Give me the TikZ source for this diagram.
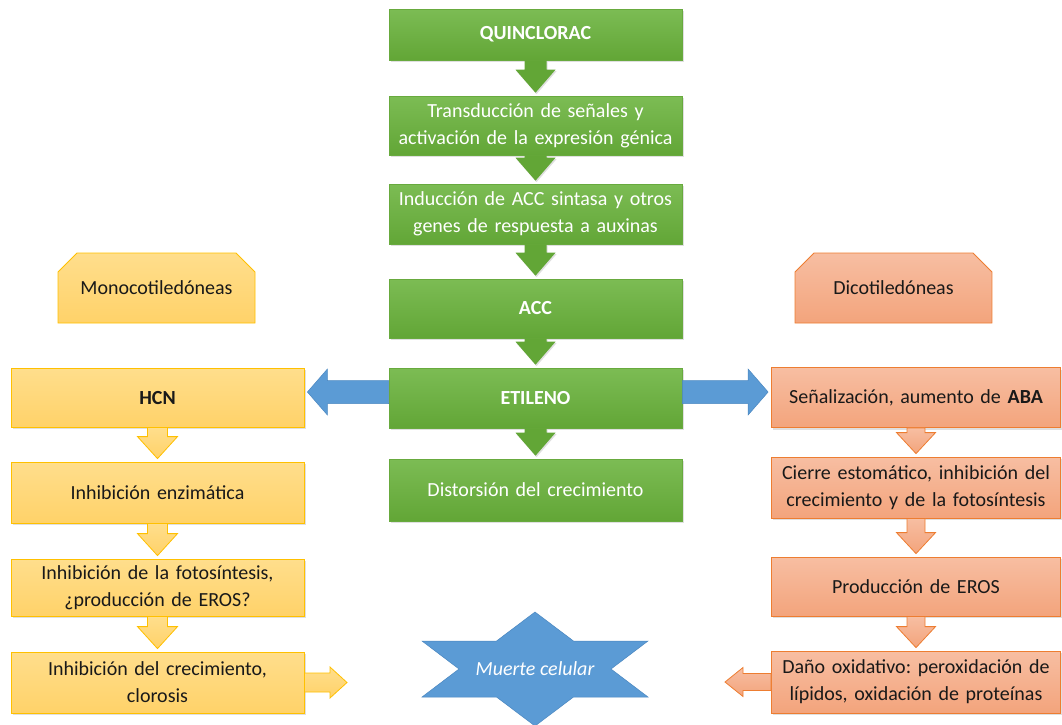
\documentclass[tikz,border=0pt]{standalone}
\usepackage{fontspec}
\setmainfont{Carlito}
\frenchspacing
\usetikzlibrary{shapes.misc,shadows,calc}

\definecolor{gtop}{RGB}{124,188,84}
\definecolor{gbot}{RGB}{98,166,54}
\definecolor{gbord}{RGB}{104,170,62}
\definecolor{ytop}{RGB}{255,222,140}
\definecolor{ybot}{RGB}{255,210,105}
\definecolor{ybord}{RGB}{255,192,0}
\definecolor{otop}{RGB}{247,190,162}
\definecolor{obot}{RGB}{243,164,124}
\definecolor{obord}{RGB}{237,125,49}
\definecolor{bfill}{RGB}{91,155,213}
\definecolor{bbord}{RGB}{75,135,192}
\definecolor{txt}{RGB}{25,25,25}

% block arrow pointing down from the south of #2 to the north of #3
\newcommand\blockdown[6]{\path[#1] let \p1=(#2.south), \p2=(#3.north) in
 (\x1-#4,\y1) -- (\x1+#4,\y1) -- (\x1+#4,\y2+3pt+#6) -- (\x1+#5,\y2+3pt+#6)
 -- (\x1,\y2+3pt) -- (\x1-#5,\y2+3pt+#6) -- (\x1-#4,\y2+3pt+#6) -- cycle;}
% horizontal block arrow from point #2 to point #3 (at the height of #2)
\newcommand\blockh[6]{\path[#1] let \p1=(#2), \p2=(#3), \n1={sign(\x2-\x1)} in
 (\x1,\y1+#4) -- (\x2-\n1*#6,\y1+#4) -- (\x2-\n1*#6,\y1+#5) -- (\x2,\y1)
 -- (\x2-\n1*#6,\y1-#5) -- (\x2-\n1*#6,\y1-#4) -- (\x1,\y1-#4) -- cycle;}

\begin{document}
\begin{tikzpicture}[x=1pt,y=-1pt,
  box/.style={rectangle, align=center, inner sep=2pt,
    font=\fontsize{20}{27}\selectfont,
    drop shadow={opacity=0.25, shadow xshift=1.5pt, shadow yshift=-2pt}},
  greenbox/.style={box, minimum width=293pt, text width=287pt,
    top color=gtop, bottom color=gbot, draw=gbord, line width=0.6pt, text=white},
  yellowbox/.style={box, minimum width=293pt, text width=287pt,
    top color=ytop, bottom color=ybot, draw=ybord, line width=0.8pt, text=txt},
  orangebox/.style={box, minimum width=289pt, text width=283pt,
    top color=otop, bottom color=obot, draw=obord, line width=0.8pt, text=txt},
  snipbox/.style={chamfered rectangle,
    chamfered rectangle corners={north west,north east},
    chamfered rectangle xsep=12pt, chamfered rectangle ysep=12pt,
    minimum width=197pt, minimum height=70pt, inner sep=0pt,
    font=\fontsize{20}{27}\selectfont, text=txt},
  garrow/.style={fill=gbot, drop shadow={opacity=0.25, shadow xshift=1pt, shadow yshift=-1.5pt}},
  yarrow/.style={top color=ytop, bottom color=ybot, draw=ybord, line width=0.8pt},
  oarrow/.style={top color=otop, bottom color=obot, draw=obord, line width=0.8pt},
  barrow/.style={fill=bfill, draw=bbord, line width=0.5pt},
]
\useasboundingbox (0,0) rectangle (1062,724);

% green column
\node[greenbox, minimum height=51pt] (q)  at (535.5,34.5) {\textbf{QUINCLORAC}};
\node[greenbox, minimum height=59pt] (t)  at (535.5,125.5) {Transducción de señales y\\activación de la expresión génica};
\node[greenbox, minimum height=60pt] (in) at (535.5,214) {Inducción de ACC sintasa y otros\\genes de respuesta a auxinas};
\node[greenbox, minimum height=59pt] (acc) at (535.5,308.5) {\textbf{ACC}};
\node[greenbox, minimum height=60pt] (et) at (535.5,398) {\textbf{ETILENO}};
\node[greenbox, minimum height=62pt] (di) at (535.5,490) {Distorsión del crecimiento};

% yellow column
\node[snipbox, top color=ytop, bottom color=ybot, draw=ybord, line width=0.8pt] (mono) at (156.5,288) {Monocotiledóneas};
\node[yellowbox, minimum height=59pt] (hcn) at (157.5,397.5) {\textbf{HCN}};
\node[yellowbox, minimum height=61pt] (enz) at (157.5,492.5) {Inhibición enzimática};
\node[yellowbox, minimum height=57pt] (fot) at (157.5,587.5) {Inhibición de la fotosíntesis,\\¿producción de EROS?};
\node[yellowbox, minimum height=61pt] (cre) at (157.5,682.5) {Inhibición del crecimiento,\\clorosis};

% orange column
\node[snipbox, top color=otop, bottom color=obot, draw=obord, line width=0.8pt] (dico) at (893.5,288) {Dicotiledóneas};
\node[orangebox, minimum height=60pt] (sen) at (916,397.5) {Señalización, aumento de \textbf{ABA}};
\node[orangebox, minimum height=61pt] (cie) at (916,487.5) {Cierre estomático, inhibición del\\crecimiento y de la fotosíntesis};
\node[orangebox, minimum height=59pt] (pro) at (916,586.5) {Producción de EROS};
\node[orangebox, minimum height=62pt] (dan) at (916,682) {Daño oxidativo: peroxidación de\\lípidos, oxidación de proteínas};

% green arrows
\blockdown{garrow}{q}{t}{11pt}{20pt}{23pt}
\blockdown{garrow}{t}{in}{11pt}{20pt}{23pt}
\blockdown{garrow}{in}{acc}{11pt}{20pt}{23pt}
\blockdown{garrow}{acc}{et}{11pt}{20pt}{23pt}
\blockdown{garrow}{et}{di}{11pt}{20pt}{23pt}

% yellow arrows
\blockdown{yarrow}{hcn}{enz}{10pt}{20pt}{22pt}
\blockdown{yarrow}{enz}{fot}{10pt}{20pt}{22pt}
\blockdown{yarrow}{fot}{cre}{10pt}{20pt}{22pt}

% orange arrows
\blockdown{oarrow}{sen}{cie}{9pt}{19.5pt}{21pt}
\blockdown{oarrow}{cie}{pro}{9pt}{19.5pt}{21pt}
\blockdown{oarrow}{pro}{dan}{9pt}{19.5pt}{21pt}

% blue arrows from ETILENO
\blockh{barrow}{[yshift=6pt]et.west}{[xshift=3pt]hcn.east}{11.5pt}{23pt}{20pt}
\blockh{barrow}{[yshift=6pt]et.east}{[xshift=-3pt]sen.west}{11.5pt}{23pt}{20pt}

% muerte celular
\node[font=\fontsize{20}{27}\selectfont\itshape, text=white, inner sep=0pt] (mc) at (535,669) {\phantom{Muerte celular}};
\path[fill=bfill, draw=bbord, line width=0.5pt, shift={(mc.center)}]
  (0,-57) -- (38.5,-28) -- (113,-28) -- (76,0) -- (113,28) -- (38.5,28)
  -- (0,57) -- (-38.5,28) -- (-113,28) -- (-76,0) -- (-113,-28) -- (-38.5,-28) -- cycle;
\node[font=\fontsize{20}{27}\selectfont\itshape, text=white, inner sep=0pt] at (mc) {Muerte celular};

% arrows to muerte celular
\coordinate (ly) at (347,682.5);
\coordinate (ro) at (725,682);
\blockh{yarrow}{cre.east}{ly}{9.5pt}{15.5pt}{17pt}
\blockh{oarrow}{dan.west}{ro}{8.5pt}{14.5pt}{18pt}
\end{tikzpicture}
\end{document}
